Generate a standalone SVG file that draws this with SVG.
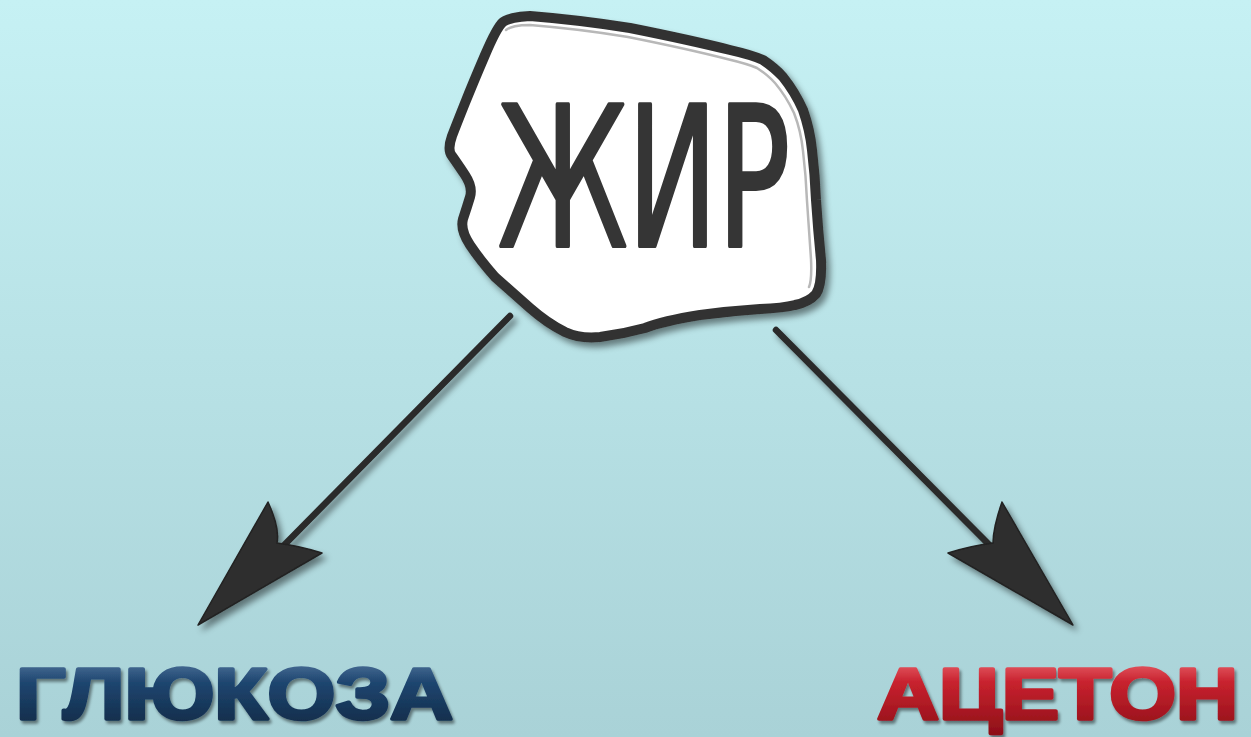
<svg xmlns="http://www.w3.org/2000/svg" width="1251" height="737" viewBox="0 0 1251 737">
<defs>
<linearGradient id="bg" x1="0" y1="0" x2="0" y2="1">
<stop offset="0" stop-color="#c6f1f4"/>
<stop offset="1" stop-color="#a9d2d7"/>
</linearGradient>
<linearGradient id="blue" x1="0" y1="0" x2="0" y2="1">
<stop offset="0" stop-color="#5a7fa6"/>
<stop offset="0.35" stop-color="#1f4670"/>
<stop offset="1" stop-color="#0f2742"/>
</linearGradient>
<linearGradient id="red" x1="0" y1="0" x2="0" y2="1">
<stop offset="0" stop-color="#f0707a"/>
<stop offset="0.35" stop-color="#c8222e"/>
<stop offset="1" stop-color="#8e0f18"/>
</linearGradient>
<filter id="sh" x="-20%" y="-20%" width="140%" height="140%">
<feDropShadow dx="4" dy="5" stdDeviation="3" flood-color="#000" flood-opacity="0.45"/>
</filter>
<filter id="sh2" x="-20%" y="-20%" width="140%" height="140%">
<feDropShadow dx="2" dy="3" stdDeviation="1.5" flood-color="#000" flood-opacity="0.45"/>
</filter>
<style>
.line{stroke:#2b2b2b;stroke-width:6.5;fill:none;stroke-linecap:round}
.head{fill:#2e2e2e;stroke:#222;stroke-width:1.5;stroke-linejoin:round}
.lbl{font-family:"Liberation Sans","DejaVu Sans",sans-serif;font-weight:bold;font-size:72px;stroke-width:3.5;stroke-linejoin:round}
</style>
</defs>
<rect width="1251" height="737" fill="url(#bg)"/>
<g id="connectors" filter="url(#sh)">
<line class="line" x1="510" y1="316" x2="232" y2="598"/>
<path class="head" d="M198,625 L268,502 Q280,528 277,543 Q300,546 322,553 Z"/>
<line class="line" x1="776" y1="330" x2="1040" y2="596"/>
<path class="head" d="M1073,625 L1002,502 Q993,528 993,543 Q970,546 948,553 Z"/>
</g>
<g id="node-fat" filter="url(#sh)">
<path d="M503,22 Q510,17 530,16 Q580,20 630,28 Q690,40 730,50 Q752,55 763,60 Q775,68 783,77 Q795,92 803,110 Q810,130 812,150 Q815,175 816,200 Q818,230 821,260 Q822,285 816,294 Q809,302 795,305 Q783,308 760,309 Q730,311 700,315 Q663,321 645,328 Q623,334 600,337 Q580,339 565,332 Q547,323 530,308 Q513,293 495,277 Q480,260 470,245 Q460,230 463,219 Q467,207 470,197 Q473,187 465,175 Q457,163 452,156 Q447,150 452,136 Q457,123 465,103 Q473,83 485,55 Q497,27 503,22 Z" fill="#ffffff" stroke="#333333" stroke-width="10" stroke-linejoin="round"/>
<path d="M506,30 Q512,25 530,25 Q580,29 628,37 Q688,49 727,59 Q748,64 757,68 Q768,75 775,83 Q786,96 794,113 Q801,131 803,151 Q806,176 807,201 Q809,230 811,259 Q812,280 809,287" fill="none" stroke="#b8b8b8" stroke-width="2.5" stroke-linecap="round"/>
<text x="498" y="246" textLength="292" lengthAdjust="spacingAndGlyphs" font-family="DejaVu Sans, sans-serif" font-size="194" fill="#353535" stroke="#353535" stroke-width="4" stroke-linejoin="round">ЖИР</text>
</g>
<g id="node-glucose" filter="url(#sh2)">
<text class="lbl" x="16" y="719" textLength="437" lengthAdjust="spacingAndGlyphs" fill="url(#blue)" stroke="url(#blue)">ГЛЮКОЗА</text>
</g>
<g id="node-acetone" filter="url(#sh2)">
<text class="lbl" x="877" y="719" textLength="361" lengthAdjust="spacingAndGlyphs" fill="url(#red)" stroke="url(#red)">АЦЕТОН</text>
</g>
</svg>
